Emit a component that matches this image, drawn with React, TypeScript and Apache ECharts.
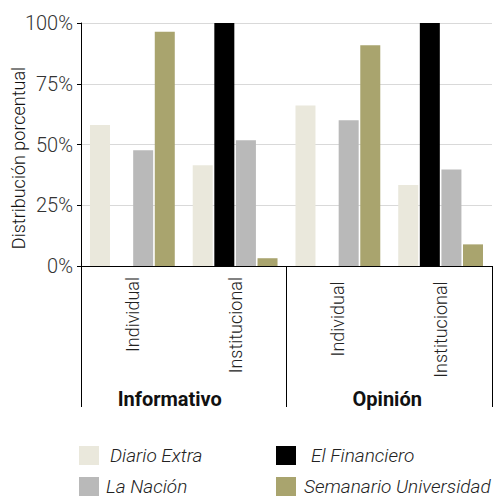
import React, { useEffect, useRef } from "react";
import * as echarts from "echarts";

const categories = ["Individual", "Institucional", "Individual ", "Institucional "];
const groups = ["Informativo", "Opinión"];
const yTicks = [0, 25, 50, 75, 100];

const diarioExtra = [58, 41.5, 66, 33.3];
const elFinanciero = [0, 100, 0, 100];
const laNacion = [47.6, 51.8, 60, 39.7];
const semanario = [96.4, 3.2, 90.8, 8.9];

const seriesNames = ["Diario Extra", "El Financiero", "La Nación", "Semanario Universidad"];
const seriesColors = ["#EAE8DC", "#000000", "#B9B9B9", "#A9A46E"];
const seriesValues = [diarioExtra, elFinanciero, laNacion, semanario];

const FONT = "Roboto, 'Noto Sans', sans-serif";

export default function App() {
  const ref = useRef<HTMLDivElement>(null);
  useEffect(() => {
    if (!ref.current) return;
    const chart = echarts.init(ref.current, null, { renderer: "svg" });
    const legendPos = [
      { left: 79, top: 446, pad: 6 },
      { left: 276, top: 446, pad: 10 },
      { left: 79, top: 477, pad: 2 },
      { left: 276, top: 477, pad: 3 },
    ];
    chart.setOption({
      animation: false,
      grid: { left: 81, right: 4, top: 23, bottom: 231, containLabel: false },
      legend: seriesNames.map((n, i) => ({
        data: [n],
        left: legendPos[i].left,
        top: legendPos[i].top,
        itemWidth: 20,
        itemHeight: 19,
        icon: "rect",
        selectedMode: false,
        padding: 0,
        textStyle: {
          fontFamily: FONT,
          fontSize: 19,
          fontStyle: "italic",
          fontWeight: 300,
          color: "#222",
          padding: [0, 0, 0, legendPos[i].pad],
        },
      })),
      xAxis: [
        {
          type: "category",
          data: categories,
          gridIndex: 0,
          position: "bottom",
          axisLine: { show: true, lineStyle: { color: "#000", width: 1 } },
          axisTick: { show: false },
          axisLabel: {
            rotate: 90,
            margin: 11,
            fontFamily: FONT,
            fontSize: 18,
            fontWeight: 300,
            color: "#222",
            interval: 0,
          },
        },
        {
          type: "category",
          data: groups,
          gridIndex: 0,
          position: "bottom",
          axisLine: { show: true, lineStyle: { color: "#000", width: 1 } },
          axisTick: { show: true, length: 141, lineStyle: { color: "#000", width: 1 } },
          axisLabel: {
            margin: 123,
            interval: 0,
            formatter: (v: string) => (v === groups[0] ? "{a|" + v + "}" : "{b|" + v + "}"),
            rich: {
              a: {
                fontFamily: FONT,
                fontSize: 20,
                fontWeight: "bold",
                color: "#111",
                padding: [0, 28, 0, 0],
              },
              b: {
                fontFamily: FONT,
                fontSize: 20,
                fontWeight: "bold",
                color: "#111",
                padding: [0, 4, 0, 0],
              },
            },
          },
        },
      ],
      yAxis: {
        type: "value",
        min: yTicks[0],
        max: yTicks[yTicks.length - 1],
        interval: 25,
        axisLine: { show: true, lineStyle: { color: "#000", width: 1 } },
        axisTick: { show: true, length: 4, lineStyle: { color: "#000" } },
        splitLine: { show: true, lineStyle: { color: "#D9D9D9", width: 1 } },
        axisLabel: {
          formatter: "{value}%",
          margin: 8,
          fontFamily: FONT,
          fontSize: 20,
          fontWeight: 300,
          color: "#333",
        },
      },
      graphic: [
        {
          type: "text",
          x: 18,
          y: 158,
          rotation: Math.PI / 2,
          style: {
            text: "Distribución porcentual",
            fontFamily: FONT,
            fontSize: 18,
            fontWeight: 300,
            fill: "#111",
            align: "center",
            verticalAlign: "middle",
          },
        },
      ],
      series: seriesNames.map((n, i) => ({
        name: n,
        type: "bar",
        xAxisIndex: 0,
        data: seriesValues[i],
        barWidth: 20,
        barGap: "8%",
        itemStyle: { color: seriesColors[i] },
      })),
    });
    return () => chart.dispose();
  }, []);
  return (
    <div
      ref={ref}
      style={{ position: "fixed", left: 0, top: 0, width: 496, height: 497, background: "#fff" }}
    />
  );
}
